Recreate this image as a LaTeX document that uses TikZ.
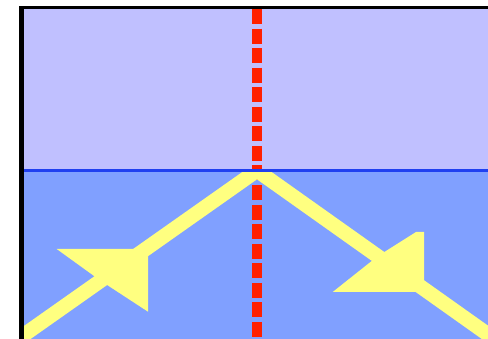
\documentclass[tikz,border=0pt]{standalone}
\definecolor{upperbg}{RGB}{192,192,255}
\definecolor{lowerbg}{RGB}{128,160,255}
\definecolor{iface}{RGB}{32,64,240}
\definecolor{normalred}{RGB}{255,32,0}
\definecolor{rayyellow}{RGB}{255,255,128}
\begin{document}
\begin{tikzpicture}[x=1pt,y=-1pt,
  normalline/.style={normalred, line width=10pt, dash pattern=on 15pt off 4.56pt},
  rayline/.style={rayyellow, line width=14.5pt, line join=miter},
  rayhead/.style={fill=rayyellow},
  interface/.style={iface, line width=3pt},
  frameedge/.style={fill=black}]
\useasboundingbox (0,0) rectangle (488,339);
% media
\fill[upperbg] (24,9) rectangle (488,170.5);
\fill[lowerbg] (24,170.5) rectangle (488,339);
% normal
\coordinate (ntop) at (257,9);
\coordinate (nbot) at (257,339);
\draw[normalline] (ntop) -- (nbot);
% ray
\coordinate (V) at (257,170.5);
\coordinate (rin) at (0,351.7);
\coordinate (rout) at (500,343);
\begin{scope}
\clip (24,170.5) rectangle (488,339);
\draw[rayline] (rin) -- (V) -- (rout);
\end{scope}
% interface
\coordinate (il) at (24,170.5);
\coordinate (ir) at (488,170.5);
\draw[interface] (il) -- (ir);
% arrowheads
\fill[rayhead] (56.7,249) -- (148,249) -- (148,311.7) -- (101,281) -- cycle;
\fill[rayhead] (424,232) -- (424,292) -- (332.7,292) -- (378,256) -- (416,232) -- cycle;
% frame
\fill[frameedge] (19,6) rectangle (488,9);
\fill[frameedge] (19,6) rectangle (24,339);
\end{tikzpicture}
\end{document}
